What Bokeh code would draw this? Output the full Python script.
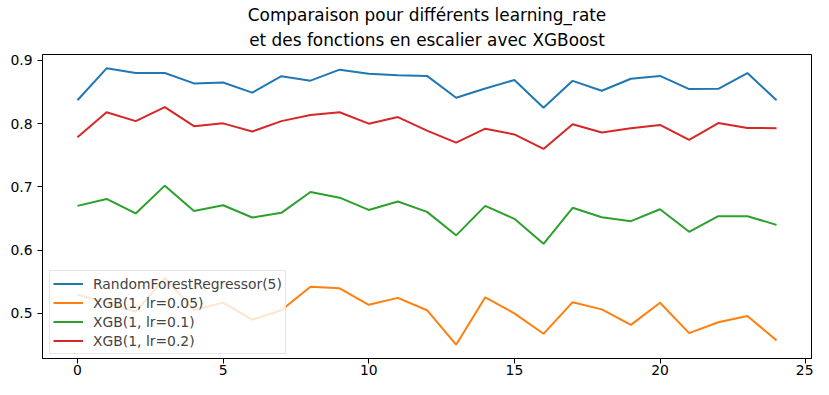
from bokeh.plotting import figure
from bokeh.models import Range1d, FixedTicker, Title, Legend, LegendItem
from bokeh.embed import file_html
from bokeh.resources import INLINE

x = list(range(25))
rf5 = [0.837, 0.8875, 0.880, 0.880, 0.8636, 0.865, 0.849, 0.875, 0.868, 0.8854,
       0.879, 0.8766, 0.8755, 0.841, 0.8557, 0.869, 0.825, 0.8677, 0.852, 0.871,
       0.8755, 0.8547, 0.855, 0.880, 0.837]
xgb_005 = [0.5297, 0.517, 0.5027, 0.556, 0.505, 0.517, 0.490, 0.505, 0.542, 0.5396,
           0.5136, 0.5245, 0.505, 0.4505, 0.5255, 0.500, 0.4677, 0.5177, 0.5063, 0.4818,
           0.5167, 0.4687, 0.486, 0.4958, 0.4573]
xgb_01 = [0.670, 0.681, 0.658, 0.702, 0.662, 0.671, 0.6516, 0.659, 0.692, 0.683,
          0.6636, 0.677, 0.6605, 0.6234, 0.670, 0.6495, 0.610, 0.667, 0.652, 0.6458,
          0.6646, 0.629, 0.6536, 0.6536, 0.640]
xgb_02 = [0.7786, 0.818, 0.804, 0.826, 0.796, 0.8005, 0.7875, 0.804, 0.8136, 0.818,
          0.800, 0.8104, 0.789, 0.770, 0.792, 0.783, 0.760, 0.799, 0.786, 0.7927,
          0.798, 0.7745, 0.801, 0.7933, 0.7927]

labels = ["RandomForestRegressor(5)", "XGB(1, lr=0.05)", "XGB(1, lr=0.1)", "XGB(1, lr=0.2)"]
series = [rf5, xgb_005, xgb_01, xgb_02]
colors = ["#1f77b4", "#ff7f0e", "#2ca02c", "#d62728"]
x_ticks = [0, 5, 10, 15, 20, 25]
y_ticks = [0.5, 0.6, 0.7, 0.8, 0.9]
title_lines = ["Comparaison pour différents learning_rate",
               "et des fonctions en escalier avec XGBoost"]

FONT = "DejaVu Sans"

allv = [v for s in series for v in s]
lo, hi = min(allv), max(allv)
pad = 0.05 * (hi - lo)
xpad = 0.05 * (max(x) - min(x))

p = figure(width=813, height=379, output_backend="svg", toolbar_location=None,
           x_range=Range1d(min(x) - xpad, max(x) + xpad),
           y_range=Range1d(lo - pad, hi + pad),
           min_border_left=42, min_border_right=2, min_border_bottom=21,
           min_border_top=54)
p.title = None
standoffs = [-2.5, 9]
for txt, so in reversed(list(zip(title_lines, standoffs))):
    t = Title(text=txt, align="center", text_font=FONT, text_font_size="16.9px",
              text_font_style="normal", text_color="black", standoff=so, offset=6)
    p.add_layout(t, "above")

items = []
for s, c, lab in zip(series, colors, labels):
    r = p.line(x, s, line_color=c, line_width=2)
    items.append(LegendItem(label=lab, renderers=[r]))

legend = Legend(items=items, location=(7, 4), margin=0,
                label_text_font=FONT, label_text_font_size="13.9px",
                glyph_width=30, glyph_height=19, label_height=19,
                label_standoff=10, spacing=0, padding=3,
                background_fill_alpha=0.8, border_line_color="#cccccc",
                border_line_width=1)
p.add_layout(legend, "center")

p.xgrid.visible = False
p.ygrid.visible = False
p.outline_line_color = "black"
p.outline_line_alpha = 1
p.outline_line_width = 1
p.background_fill_color = "white"

p.xaxis.ticker = FixedTicker(ticks=x_ticks)
p.yaxis.ticker = FixedTicker(ticks=y_ticks)
for ax in (p.xaxis[0], p.yaxis[0]):
    ax.axis_line_color = "black"
    ax.major_tick_line_color = "black"
    ax.major_tick_out = 5
    ax.major_tick_in = 0
    ax.minor_tick_line_color = None
    ax.major_label_text_font = FONT
    ax.major_label_text_font_size = "13.9px"
    ax.major_label_text_color = "black"
p.xaxis.major_label_standoff = 1
p.yaxis.major_label_standoff = 5

open("out.html", "w").write(file_html(p, INLINE))
